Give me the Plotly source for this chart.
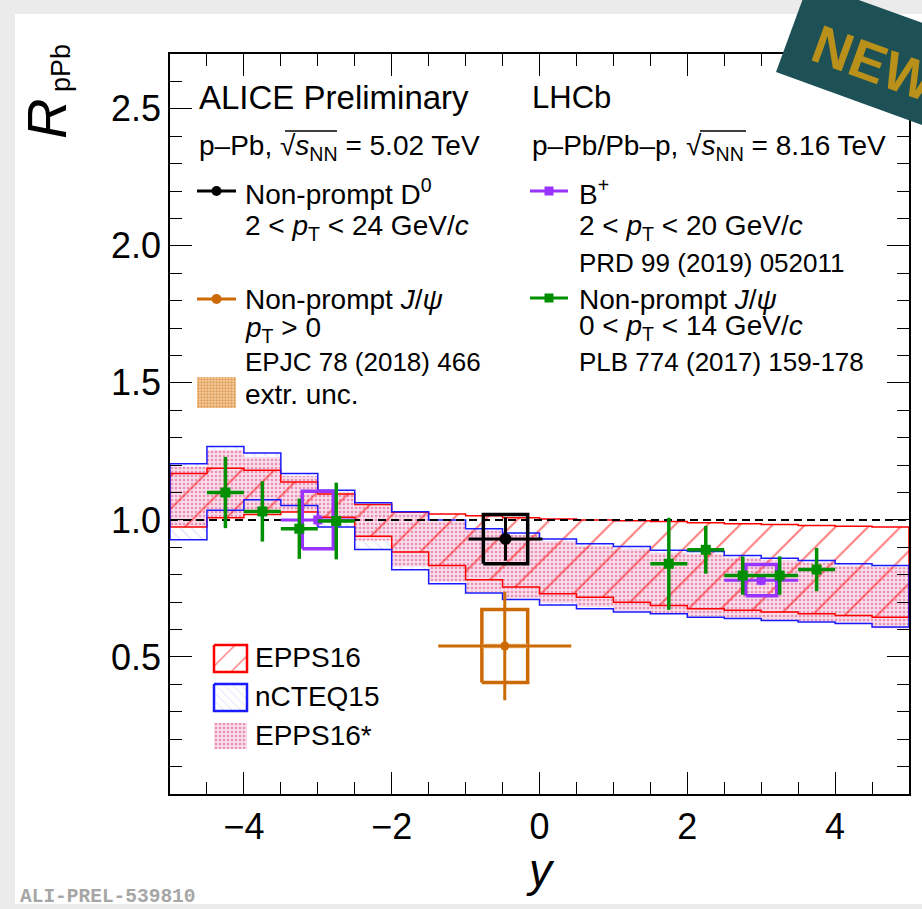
import plotly.graph_objects as go

# ---------------- data ----------------
y_edges = [-5.0, -4.5, -4.0, -3.5, -3.0, -2.5, -2.0, -1.5, -1.0, -0.5, 0.0,
           0.5, 1.0, 1.5, 2.0, 2.5, 3.0, 3.5, 4.0, 4.5, 5.0]

epps16_hi = [1.169, 1.189, 1.181, 1.138, 1.095, 1.056, 1.028, 1.022, 1.015, 1.008,
             1.003, 1.000, 0.997, 0.994, 0.990, 0.986, 0.983, 0.980, 0.977, 0.974]
epps16_lo = [0.974, 1.008, 1.020, 1.029, 1.010, 0.940, 0.883, 0.834, 0.782, 0.755,
             0.731, 0.718, 0.700, 0.688, 0.676, 0.670, 0.664, 0.658, 0.651, 0.645]

ncteq15_hi = [1.205, 1.268, 1.244, 1.169, 1.108, 1.063, 1.030, 1.000, 0.968, 0.952,
              0.930, 0.913, 0.903, 0.889, 0.885, 0.870, 0.860, 0.852, 0.840, 0.834]
ncteq15_lo = [0.928, 1.035, 1.074, 1.053, 0.974, 0.892, 0.818, 0.767, 0.733, 0.710,
              0.690, 0.676, 0.664, 0.658, 0.645, 0.640, 0.633, 0.628, 0.622, 0.609]

epps16s_hi = [1.195, 1.255, 1.230, 1.160, 1.100, 1.055, 1.024, 0.995, 0.962, 0.945,
              0.922, 0.905, 0.895, 0.880, 0.875, 0.862, 0.852, 0.845, 0.833, 0.827]
epps16s_lo = [0.975, 1.008, 1.030, 1.030, 1.000, 0.925, 0.830, 0.775, 0.738, 0.714,
              0.697, 0.683, 0.668, 0.660, 0.648, 0.642, 0.636, 0.630, 0.620, 0.605]

# ALICE non-prompt D0 (p-Pb 5.02 TeV)
d0_y = [-0.46]
d0_r = [0.93]
d0_xerr = [0.50]
d0_stat = [0.079]
d0_sys = [0.09]
d0_boxw = [0.30]

# ALICE non-prompt J/psi (EPJC 78 (2018) 466)
jpsiA_y = [-0.47]
jpsiA_r = [0.54]
jpsiA_xerr = [0.90]
jpsiA_stat = [0.198]
jpsiA_sys = [0.133]
jpsiA_extr = [0.008]
jpsiA_boxw = [0.31]

# LHCb B+ (PRD 99 (2019) 052011)
bp_y = [-3.0, 3.0]
bp_r = [1.00, 0.78]
bp_xerr = [0.5, 0.5]
bp_stat = [0.023, 0.018]
bp_sys = [0.105, 0.057]
bp_boxw = [0.21, 0.21]

# LHCb non-prompt J/psi (PLB 774 (2017) 159-178)
jpsiL_y = [-4.25, -3.75, -3.25, -2.75, 1.75, 2.25, 2.75, 3.25, 3.75]
jpsiL_r = [1.100, 1.031, 0.968, 0.996, 0.840, 0.891, 0.797, 0.797, 0.819]
jpsiL_xerr = [0.25] * 9
jpsiL_err = [0.130, 0.110, 0.110, 0.140, 0.168, 0.087, 0.070, 0.070, 0.079]

# ---------------- style ----------------
FONT = "Liberation Sans, Arial, Helvetica, sans-serif"
RED = "#ff0000"
BLUE = "#1a1aff"
ORANGE = "#cc6a06"
PURPLE = "#9933ff"
GREEN = "#008f00"

ML, MR, MT, MB = 170, 13, 54, 115
W, H = 922, 909
PW, PH = W - ML - MR, H - MT - MB


def P(px, py):
    return (px - ML) / PW, (H - MB - py) / PH


def step_poly(edges, hi, lo):
    xs, ys = [], []
    for i in range(len(hi)):
        xs += [edges[i], edges[i + 1]]
        ys += [hi[i], hi[i]]
    for i in reversed(range(len(lo))):
        xs += [edges[i + 1], edges[i]]
        ys += [lo[i], lo[i]]
    xs.append(xs[0])
    ys.append(ys[0])
    return xs, ys


def boxes(xc, yc, hx, hy):
    xs, ys = [], []
    for x, y, a, b in zip(xc, yc, hx, hy):
        xs += [x - a, x + a, x + a, x - a, x - a, None]
        ys += [y - b, y - b, y + b, y + b, y - b, None]
    return xs, ys


fig = go.Figure()

PINK_PAT = dict(shape=".", fgcolor="rgba(210,50,120,0.9)", bgcolor="rgba(250,222,234,1)",
                size=4, solidity=0.35)
BLUE_PAT = dict(shape="\\", fgcolor="rgba(110,110,255,0.5)", bgcolor="rgba(255,255,255,0)",
                size=8, solidity=0.14)
ORANGE_PAT = dict(shape=".", fgcolor=ORANGE, bgcolor="rgba(243,205,160,1)", size=3, solidity=0.45)

# nCTEQ15 (blue hatch)
bx, by = step_poly(y_edges, ncteq15_hi, ncteq15_lo)
fig.add_trace(go.Scatter(x=bx, y=by, mode="lines", fill="toself",
                         line=dict(width=0, color=BLUE), fillcolor="rgba(0,0,0,0)",
                         fillpattern=BLUE_PAT, hoverinfo="skip", showlegend=False))
# EPPS16* (pink dots)
px_, py_ = step_poly(y_edges, epps16s_hi, epps16s_lo)
fig.add_trace(go.Scatter(x=px_, y=py_, mode="lines", fill="toself",
                         line=dict(width=0, color="rgba(0,0,0,0)"), fillcolor="rgba(0,0,0,0)",
                         fillpattern=PINK_PAT, hoverinfo="skip", showlegend=False))
# EPPS16 (red hatch)
rx, ry = step_poly(y_edges, epps16_hi, epps16_lo)
fig.add_trace(go.Scatter(x=rx, y=ry, mode="lines", fill="toself",
                         line=dict(width=1.5, color=RED), fillcolor="rgba(0,0,0,0)",
                         fillpattern=dict(shape="/", fgcolor=RED, bgcolor="rgba(255,255,255,0)",
                                          size=23, solidity=0.09),
                         hoverinfo="skip", showlegend=False))
# nCTEQ15 outline
fig.add_trace(go.Scatter(x=bx, y=by, mode="lines", line=dict(width=1.5, color=BLUE),
                         hoverinfo="skip", showlegend=False))

# unity line
fig.add_trace(go.Scatter(x=[y_edges[0], y_edges[-1]], y=[1, 1], mode="lines",
                         line=dict(color="black", width=2, dash="8px,5px"),
                         hoverinfo="skip", showlegend=False))

# ALICE J/psi
sx, sy = boxes(jpsiA_y, jpsiA_r, jpsiA_boxw, jpsiA_sys)
fig.add_trace(go.Scatter(x=sx, y=sy, mode="lines", line=dict(color=ORANGE, width=3.5),
                         hoverinfo="skip", showlegend=False))
ex, ey = boxes(jpsiA_y, jpsiA_r, jpsiA_boxw, jpsiA_extr)
fig.add_trace(go.Scatter(x=ex, y=ey, mode="lines", fill="toself", line=dict(width=0),
                         fillcolor="rgba(0,0,0,0)", fillpattern=ORANGE_PAT,
                         hoverinfo="skip", showlegend=False))
fig.add_trace(go.Scatter(x=jpsiA_y, y=jpsiA_r, mode="markers",
                         marker=dict(symbol="circle", size=9, color=ORANGE),
                         error_x=dict(type="data", array=jpsiA_xerr, color=ORANGE, thickness=3, width=0),
                         error_y=dict(type="data", array=jpsiA_stat, color=ORANGE, thickness=3, width=0),
                         hoverinfo="skip", showlegend=False))

# ALICE D0
sx, sy = boxes(d0_y, d0_r, d0_boxw, d0_sys)
fig.add_trace(go.Scatter(x=sx, y=sy, mode="lines", line=dict(color="black", width=3.5),
                         hoverinfo="skip", showlegend=False))
fig.add_trace(go.Scatter(x=d0_y, y=d0_r, mode="markers",
                         marker=dict(symbol="circle", size=12, color="black"),
                         error_x=dict(type="data", array=d0_xerr, color="black", thickness=3, width=0),
                         error_y=dict(type="data", array=d0_stat, color="black", thickness=3, width=0),
                         hoverinfo="skip", showlegend=False))

# LHCb B+
sx, sy = boxes(bp_y, bp_r, bp_boxw, bp_sys)
fig.add_trace(go.Scatter(x=sx, y=sy, mode="lines", line=dict(color=PURPLE, width=3.5),
                         hoverinfo="skip", showlegend=False))
fig.add_trace(go.Scatter(x=bp_y, y=bp_r, mode="markers",
                         marker=dict(symbol="square", size=9, color=PURPLE),
                         error_x=dict(type="data", array=bp_xerr, color=PURPLE, thickness=3, width=0),
                         error_y=dict(type="data", array=bp_stat, color=PURPLE, thickness=3, width=0),
                         hoverinfo="skip", showlegend=False))

# LHCb J/psi
fig.add_trace(go.Scatter(x=jpsiL_y, y=jpsiL_r, mode="markers",
                         marker=dict(symbol="square", size=10, color=GREEN),
                         error_x=dict(type="data", array=jpsiL_xerr, color=GREEN, thickness=3.5, width=0),
                         error_y=dict(type="data", array=jpsiL_err, color=GREEN, thickness=3.5, width=0),
                         hoverinfo="skip", showlegend=False))

# ---------------- legend samples (pixel overlay axes) ----------------
def leg_line(x0, x1, y, color, symbol, size):
    fig.add_trace(go.Scatter(x=[x0, x1], y=[y, y], mode="lines", xaxis="x2", yaxis="y2",
                             line=dict(color=color, width=3), hoverinfo="skip", showlegend=False))
    fig.add_trace(go.Scatter(x=[(x0 + x1) / 2], y=[y], mode="markers", xaxis="x2", yaxis="y2",
                             marker=dict(symbol=symbol, size=size, color=color),
                             hoverinfo="skip", showlegend=False))


leg_line(197, 236, 191, "black", "circle", 10)
leg_line(197, 236, 299, ORANGE, "circle", 10)
leg_line(530, 568, 191, PURPLE, "square", 9)
leg_line(530, 568, 298, GREEN, "square", 9)


def leg_box(x0, x1, y0, y1, linecolor, lw, pattern):
    fig.add_trace(go.Scatter(x=[x0, x1, x1, x0, x0], y=[y0, y0, y1, y1, y0], mode="lines",
                             xaxis="x2", yaxis="y2", fill="toself", fillcolor="rgba(0,0,0,0)",
                             line=dict(color=linecolor, width=lw), fillpattern=pattern,
                             hoverinfo="skip", showlegend=False))


leg_box(197, 236, 377, 408, "rgba(0,0,0,0)", 0, ORANGE_PAT)
leg_box(214, 247, 645, 672, RED, 2.5,
        dict(shape="/", fgcolor=RED, bgcolor="rgba(255,255,255,0)", size=16, solidity=0.09))
leg_box(214, 247, 684, 711, BLUE, 2.5,
        dict(shape="\\", fgcolor="rgba(110,110,255,0.5)", bgcolor="rgba(255,255,255,0)", size=6, solidity=0.15))
leg_box(214, 247, 723, 749, "rgba(0,0,0,0)", 0, PINK_PAT)

# ---------------- annotations ----------------
ann = []


def T(px, py, text, size=28, anchor="left", **kw):
    x, y = P(px, py)
    d = dict(x=x, y=y, xref="paper", yref="paper", text=text, showarrow=False,
             xanchor=anchor, yanchor="middle", font=dict(family=FONT, size=size, color="black"))
    d.update(kw)
    ann.append(d)


T(197, 98, "ALICE Preliminary", 33)
T(197, 147, "p–Pb, √<i>s</i><sub>NN</sub> = 5.02 TeV", 28)
T(243, 192, "Non-prompt D<sup>0</sup>", 28)
T(243, 227, "2 < <i>p</i><sub>T</sub> < 24 GeV/<i>c</i>", 28)
T(243, 299, "Non-prompt <i>J</i>/<i>ψ</i>", 28)
T(243, 329, "<i>p</i><sub>T</sub> > 0", 28)
T(243, 362, "EPJC 78 (2018) 466", 26)
T(243, 394, "extr. unc.", 28)

T(530, 98, "LHCb", 31)
T(530, 147, "p–Pb/Pb–p, √<i>s</i><sub>NN</sub> = 8.16 TeV", 28)
T(577, 192, "B<sup>+</sup>", 28)
T(577, 227, "2 < <i>p</i><sub>T</sub> < 20 GeV/<i>c</i>", 28)
T(577, 263, "PRD 99 (2019) 052011", 26)
T(577, 299, "Non-prompt <i>J</i>/<i>ψ</i>", 28)
T(577, 327, "0 < <i>p</i><sub>T</sub> < 14 GeV/<i>c</i>", 28)
T(577, 362, "PLB 774 (2017) 159-178", 26)

T(253, 657, "EPPS16", 28)
T(253, 696, "nCTEQ15", 28)
T(253, 735, "EPPS16*", 28)

T(540, 870, "<i>y</i>", 46, anchor="center")
T(46, 119, "<i>R</i>", 56, anchor="center", textangle=-90)
T(61, 68, "pPb", 27, anchor="center", textangle=-90)

T(18, 897, "<b>ALI-PREL-539810</b>", 19, font=dict(family="Liberation Mono, Courier New, monospace",
                                                    size=19.5, color="#a6a6a6"))
T(874, 63, "<b>NEW</b>", 54, anchor="center", textangle=20,
  font=dict(family="Liberation Sans, Arial", size=54, color="#b8901a"))

# ---------------- shapes ----------------
shapes = []


def rect_px(x0, y0, x1, y1, color):
    a, b = P(x0, y0)
    c, d = P(x1, y1)
    shapes.append(dict(type="rect", xref="paper", yref="paper", x0=a, y0=b, x1=c, y1=d,
                       fillcolor=color, line=dict(width=0), layer="below"))


GRAY = "#ebebeb"
rect_px(0, 0, W, 14, GRAY)
rect_px(0, 0, 15, H, GRAY)
rect_px(0, 904, W, H, GRAY)

# NEW badge
pts = [(776, 72), (809, -18), (997, 50), (983, 147)]
path = ""
for i, (qx, qy) in enumerate(pts):
    a, b = P(qx, qy)
    path += ("M" if i == 0 else "L") + f"{a:.5f},{b:.5f} "
path += "Z"
shapes.append(dict(type="path", xref="paper", yref="paper", path=path,
                   fillcolor="#1e5156", line=dict(width=0), layer="above"))

# radical overlines
for (x0, x1) in [(285, 337), (700, 746)]:
    a, b = P(x0, 131)
    c, _ = P(x1, 131)
    shapes.append(dict(type="line", xref="paper", yref="paper", x0=a, x1=c, y0=b, y1=b,
                       line=dict(color="black", width=1.5)))

axis_common = dict(showline=True, linecolor="black", linewidth=1.5, mirror="ticks",
                   ticks="inside", tickcolor="black", tickwidth=1, ticklen=22,
                   showgrid=False, zeroline=False,
                   tickfont=dict(family=FONT, size=36, color="black"))

fig.update_layout(
    width=W, height=H,
    margin=dict(l=ML, r=MR, t=MT, b=MB, pad=0),
    paper_bgcolor="white", plot_bgcolor="white",
    showlegend=False,
    xaxis=dict(range=[-5, 5], tickmode="array", tickvals=[-4, -2, 0, 2, 4],
               minor=dict(tickmode="array", tickvals=[-4.5 + 0.5 * i for i in range(19)],
                          ticks="inside", ticklen=12, tickwidth=1, tickcolor="black"),
               **axis_common),
    yaxis=dict(range=[0, 2.7], tickmode="array", tickvals=[0.5, 1.0, 1.5, 2.0, 2.5],
               ticktext=["0.5", "1.0", "1.5", "2.0", "2.5"],
               minor=dict(tickmode="array", tickvals=[0.1 * i for i in range(1, 27)],
                          ticks="inside", ticklen=12, tickwidth=1, tickcolor="black"),
               **axis_common),
    xaxis2=dict(range=[ML, W - MR], overlaying="x", anchor="y2", visible=False),
    yaxis2=dict(range=[H - MB, MT], overlaying="y", anchor="x2", visible=False),
    annotations=ann,
    shapes=shapes,
)

fig.write_html("out.html")
